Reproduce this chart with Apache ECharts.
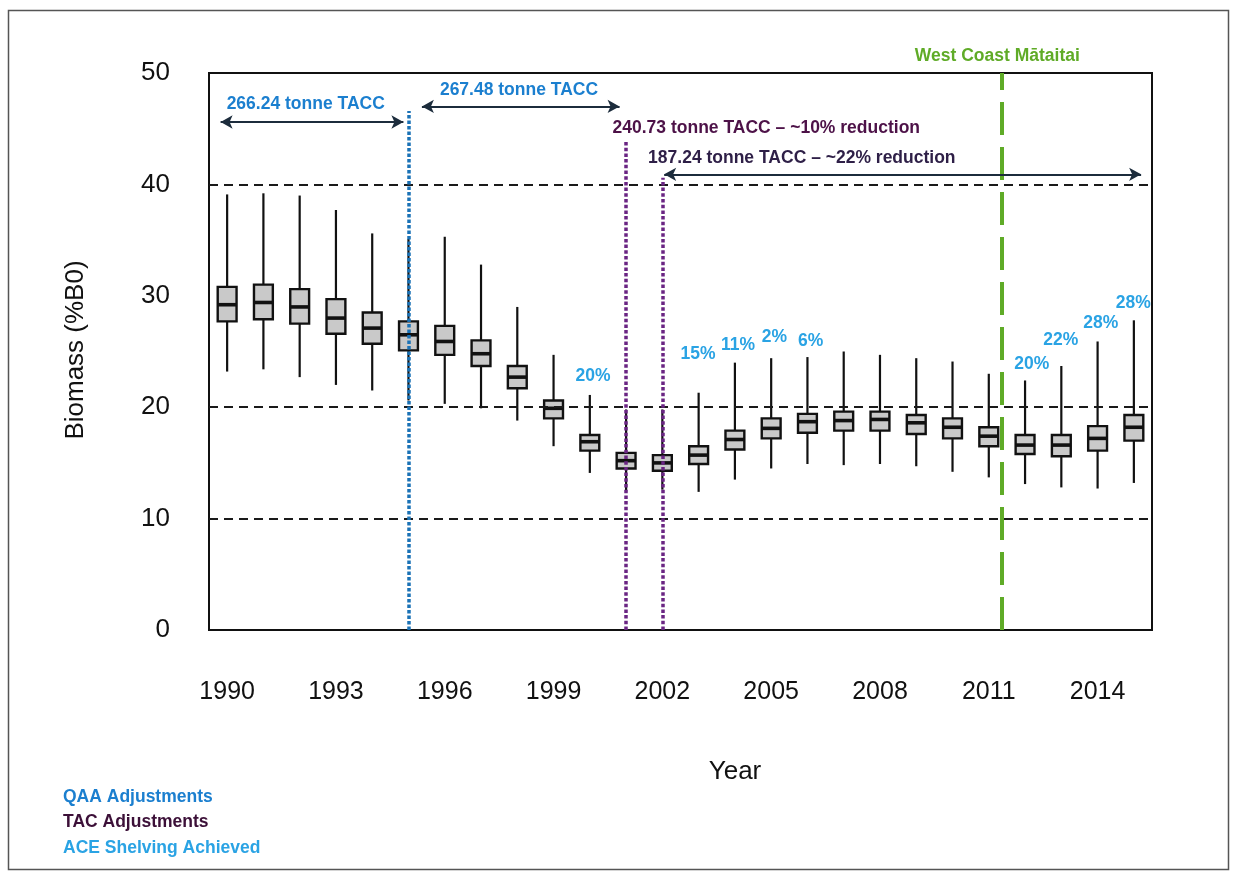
<!DOCTYPE html>
<html>
<head>
<meta charset="utf-8">
<script src="https://cdn.jsdelivr.net/npm/echarts@6/dist/echarts.min.js"></script>
<style>
html,body{margin:0;padding:0;background:#fff;}
#main{width:1235px;height:877px;}
</style>
</head>
<body>
<div id="main"></div>
<script>
// ---------------- DATA ----------------
const years = ['1990','1991','1992','1993','1994','1995','1996','1997','1998','1999','2000','2001','2002',
  '2003','2004','2005','2006','2007','2008','2009','2010','2011','2012','2013','2014','2015'];
const minV = [23.2,23.4,22.7,22.0,21.5,20.6,20.3,19.9,18.8,16.5,14.1,12.4,12.6,12.4,13.5,14.5,14.9,14.8,14.9,14.7,14.2,13.7,13.1,12.8,12.7,13.2];
const q1V  = [27.7,27.9,27.5,26.6,25.7,25.1,24.7,23.7,21.7,19.0,16.1,14.5,14.3,14.9,16.2,17.2,17.7,17.9,17.9,17.6,17.2,16.5,15.8,15.6,16.1,17.0];
const medV = [29.2,29.4,29.0,28.0,27.1,26.5,25.9,24.8,22.7,19.9,16.9,15.2,15.0,15.7,17.1,18.1,18.7,18.8,18.9,18.6,18.2,17.4,16.6,16.6,17.2,18.2];
const q3V  = [30.8,31.0,30.6,29.7,28.5,27.7,27.3,26.0,23.7,20.6,17.5,15.9,15.7,16.5,17.9,19.0,19.4,19.6,19.6,19.3,19.0,18.2,17.5,17.5,18.3,19.3];
const maxV = [39.1,39.2,39.0,37.7,35.6,35.1,35.3,32.8,29.0,24.7,21.1,19.8,19.8,21.3,24.0,24.4,24.5,25.0,24.7,24.4,24.1,23.0,22.4,23.7,25.9,27.8];

const yTicks = [0, 10, 20, 30, 40, 50];
const refLines = [10, 20, 40];

// ACE shelving percentages
const pctLabels = ['20%','15%','11%','2%','6%','20%','22%','28%','28%'];
const pctX = [2000.1, 2003.0, 2004.1, 2005.1, 2006.1, 2012.2, 2013.0, 2014.1, 2015.0];
const pctY = [22.7, 24.7, 25.5, 26.2, 25.9, 23.8, 26.0, 27.5, 29.3];

// TACC annotations
const tacText = ['266.24 tonne TACC', '267.48 tonne TACC', '240.73 tonne TACC \u2013 ~10% reduction', '187.24 tonne TACC \u2013 ~22% reduction'];
const tacX = [1990.0, 1995.88, 2000.64, 2001.62];
const tacY = [47.2, 48.4, 45.0, 42.3];

// arrows
const arrowFrom = [1989.82, 1995.37, 2002.05];
const arrowTo = [1994.86, 2000.82, 2015.2];
const arrowY = [45.6, 47.0, 40.9];

// vertical event lines
const qaaYear = 1995, qaaTop = 46.6;
const tacYears = [2001, 2002], tacTops = [43.9, 40.6];
const mataitaiYear = 2011.35, mataitaiLabel = 'West Coast M\u0101taitai';

const legendTexts = ['QAA Adjustments', 'TAC Adjustments', 'ACE Shelving Achieved'];

// ---------------- STYLE ----------------
const C_QAA = '#1b7fcf', C_QAA_LINE = '#1a72b6', C_TAC = '#4d1248', C_TAC2 = '#2e1f47', C_TAC_LINE = '#6a2583';
const C_ACE = '#2aa3e4', C_GREEN = '#5fab27', C_ARROW = '#1c2c3c', C_INK = '#111';

function hasFont(f) {
  const c = document.createElement('canvas').getContext('2d');
  const s = 'abcdefghijKLMN0123456789%';
  c.font = 'bold 20px monospace';
  const a = c.measureText(s).width;
  c.font = 'bold 20px "' + f + '", monospace';
  return Math.abs(c.measureText(s).width - a) > 0.5;
}
const narrow = hasFont('Liberation Sans Narrow');
const AF = narrow ? '"Liberation Sans Narrow", "Liberation Sans", Arial, sans-serif' : '"Liberation Sans", Arial, sans-serif';
const AS = narrow ? 21 : 17.5;
const PS = narrow ? 21 : 17.5;
const BASEF = '"Liberation Sans", Arial, sans-serif';

const boxData = years.map((y, i) => [i, minV[i], q1V[i], medV[i], q3V[i], maxV[i]]);

const textData = [];
tacText.forEach((t, i) => textData.push({
  value: [tacX[i], tacY[i]],
  label: { formatter: t, color: i < 2 ? C_QAA : (i === 2 ? C_TAC : C_TAC2), align: 'left' }
}));
pctLabels.forEach((t, i) => textData.push({
  value: [pctX[i], pctY[i]],
  label: { formatter: t, color: C_ACE, align: 'center', fontSize: PS }
}));
textData.push({ value: [mataitaiYear - 0.1, 51.5], label: { formatter: mataitaiLabel, color: C_GREEN, align: 'center' } });

const vLines = [];
vLines.push([{ coord: [qaaYear, 0], lineStyle: { color: C_QAA_LINE, width: 3.5, type: [3.5, 2] } }, { coord: [qaaYear, qaaTop] }]);
tacYears.forEach((yr, i) => vLines.push([{ coord: [yr, 0], lineStyle: { color: C_TAC_LINE, width: 3.5, type: [3.5, 2.2] } }, { coord: [yr, tacTops[i]] }]));
vLines.push([{ coord: [mataitaiYear, 0], lineStyle: { color: C_GREEN, width: 4, type: [33, 12] } }, { coord: [mataitaiYear, 50] }]);
arrowFrom.forEach((x0, i) => vLines.push([
  { coord: [x0, arrowY[i]], symbol: 'arrow', symbolSize: [10, 12], lineStyle: { color: C_ARROW, width: 2, type: 'solid' }, itemStyle: { color: C_ARROW } },
  { coord: [arrowTo[i], arrowY[i]], symbol: 'arrow', symbolSize: [10, 12], itemStyle: { color: C_ARROW } }
]));

const chart = echarts.init(document.getElementById('main'), null, { renderer: 'canvas' });
chart.setOption({
  animation: false,
  backgroundColor: '#fff',
  textStyle: { fontFamily: BASEF },
  grid: { left: 209, right: 83, top: 73, bottom: 247, show: true, borderColor: C_INK, borderWidth: 2, containLabel: false },
  xAxis: [{
    type: 'category', data: years, boundaryGap: true,
    axisLine: { lineStyle: { color: C_INK, width: 2 } },
    axisTick: { alignWithLabel: true, interval: 0, length: 10, lineStyle: { color: C_INK, width: 2 } },
    axisLabel: { interval: 2, margin: 50, fontSize: 25, color: C_INK, fontFamily: BASEF },
    splitLine: { show: false }
  }, {
    type: 'value', min: 1989.5, max: 2015.5, show: false
  }],
  yAxis: [{
    type: 'value', min: yTicks[0], max: yTicks[yTicks.length - 1], interval: yTicks[1] - yTicks[0],
    axisLine: { show: true, lineStyle: { color: C_INK, width: 2 } },
    axisTick: { show: false },
    axisLabel: { margin: 39, fontSize: 26, color: C_INK, fontFamily: BASEF },
    splitLine: { show: false }
  }],
  graphic: [
    { type: 'rect', z: -1, shape: { x: 8.5, y: 10.5, width: 1220, height: 859 }, style: { fill: 'none', stroke: '#555', lineWidth: 1.5 } },
    { type: 'text', x: 76, y: 350, rotation: Math.PI / 2, style: { text: 'Biomass (%B0)', fontSize: 26, fontFamily: BASEF, fill: C_INK, align: 'center', verticalAlign: 'middle' } },
    { type: 'text', x: 735, y: 772, style: { text: 'Year', fontSize: 26, fontFamily: BASEF, fill: C_INK, align: 'center', verticalAlign: 'middle' } },
    { type: 'text', x: 63, y: 797, style: { text: legendTexts[0], fontSize: AS, fontWeight: 'bold', fontFamily: AF, fill: C_QAA, align: 'left', verticalAlign: 'middle' } },
    { type: 'text', x: 63, y: 822, style: { text: legendTexts[1], fontSize: AS, fontWeight: 'bold', fontFamily: AF, fill: '#3c1038', align: 'left', verticalAlign: 'middle' } },
    { type: 'text', x: 63, y: 848, style: { text: legendTexts[2], fontSize: AS, fontWeight: 'bold', fontFamily: AF, fill: C_ACE, align: 'left', verticalAlign: 'middle' } }
  ],
  series: [
    {
      type: 'line', data: [], z: 1, silent: true,
      markLine: {
        silent: true, symbol: 'none', label: { show: false }, animation: false,
        lineStyle: { color: '#1a1a1a', width: 2, type: [9, 6] },
        data: refLines.map(v => ({ yAxis: v }))
      }
    },
    {
      type: 'custom', z: 2, silent: true,
      encode: { x: 0, y: [1, 2, 3, 4, 5] },
      data: boxData,
      renderItem: function (params, api) {
        const i = api.value(0);
        const lo = api.coord([i, api.value(1)]);
        const q1 = api.coord([i, api.value(2)]);
        const md = api.coord([i, api.value(3)]);
        const q3 = api.coord([i, api.value(4)]);
        const hi = api.coord([i, api.value(5)]);
        const bw = api.size([1, 0])[0] * 0.52;
        return {
          type: 'group', children: [
            { type: 'line', shape: { x1: lo[0], y1: lo[1], x2: hi[0], y2: hi[1] }, style: { stroke: C_INK, lineWidth: 2.2 } },
            { type: 'rect', shape: { x: q3[0] - bw / 2, y: q3[1], width: bw, height: q1[1] - q3[1] }, style: { fill: '#c9c9c9', stroke: C_INK, lineWidth: 2.4 } },
            { type: 'line', shape: { x1: md[0] - bw / 2, y1: md[1], x2: md[0] + bw / 2, y2: md[1] }, style: { stroke: C_INK, lineWidth: 3.6 } }
          ]
        };
      }
    },
    {
      type: 'line', data: [], xAxisIndex: 1, yAxisIndex: 0, z: 3, silent: true,
      markLine: {
        silent: true, symbol: 'none', label: { show: false }, animation: false,
        data: vLines
      }
    },
    {
      type: 'scatter', xAxisIndex: 1, yAxisIndex: 0, z: 4, silent: true, clip: false,
      symbol: 'rect', symbolSize: 1, itemStyle: { color: 'rgba(0,0,0,0)', opacity: 1 },
      label: { show: true, position: [0, 0], verticalAlign: 'middle', fontSize: AS, fontWeight: 'bold', fontFamily: AF },
      labelLayout: { hideOverlap: false },
      data: textData
    }
  ]
});
</script>
</body>
</html>
